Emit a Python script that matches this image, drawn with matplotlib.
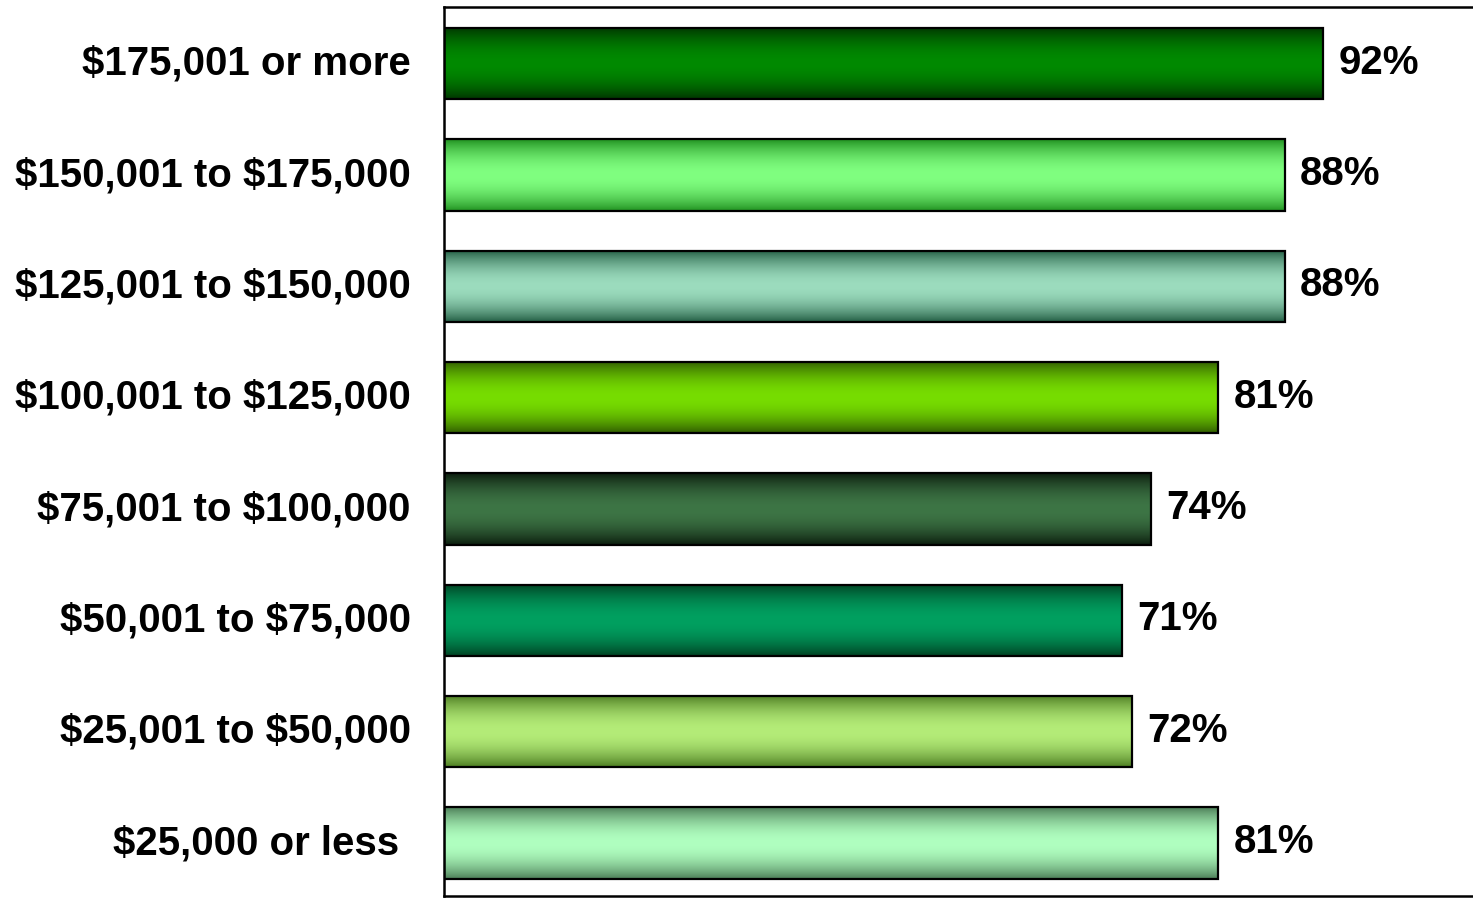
import numpy as np
import matplotlib.pyplot as plt
from matplotlib.colors import to_rgb

plt.rcParams['font.family'] = ['Liberation Sans', 'DejaVu Sans']
plt.rcParams['text.parse_math'] = False

# income brackets, bottom to top
brackets = ['$25,000 or less ', '$25,001 to $50,000', '$50,001 to $75,000',
            '$75,001 to $100,000', '$100,001 to $125,000', '$125,001 to $150,000',
            '$150,001 to $175,000', '$175,001 or more']
percent = [81, 72, 71, 74, 81, 88, 88, 92]

# (middle colour, edge colour) for the tube shading of each bar
mid_colors = ['#b0ffc0', '#b4ec78', '#00a060', '#3d7545',
              '#77dd00', '#9cdcbe', '#80ff80', '#008a00']
edge_colors = ['#4a7a55', '#4a7a20', '#004022', '#0a1a0c',
               '#2f5a00', '#1f5a40', '#1f8f1f', '#003300']

fig = plt.figure(figsize=(14.73, 8.98), dpi=100)
ax = fig.add_axes([0.3014, 0.0017, 0.70, 0.9905])

y = np.arange(len(brackets))
bars = ax.barh(y, percent, height=0.64, color='none', edgecolor='black',
               linewidth=1.6, zorder=3)

t = np.linspace(0, 1, 200)
shade = np.sin(np.pi * t) ** 0.85
for bar, mid, edge in zip(bars, mid_colors, edge_colors):
    m, e = np.array(to_rgb(mid)), np.array(to_rgb(edge))
    grad = e + (m - e) * shade[:, None]
    img = np.repeat(grad[:, None, :], 2, axis=1)
    x0, y0 = bar.get_x(), bar.get_y()
    im = ax.imshow(img, extent=(x0, x0 + bar.get_width(), y0, y0 + bar.get_height()),
                   aspect='auto', origin='lower', interpolation='bilinear', zorder=2)
    im.set_clip_path(bar)

for bar, p in zip(bars, percent):
    ax.text(bar.get_width() + 1.6, bar.get_y() + bar.get_height() / 2 + 0.01, f'{p}%',
            va='center', ha='left', fontsize=29, fontweight='bold', zorder=4)

ax.set_xlim(0, 107.9)
ax.set_ylim(-0.48, 7.51)
ax.set_yticks(y)
ax.set_yticklabels(brackets, fontsize=29, fontweight='bold')
for lbl in ax.get_yticklabels():
    lbl.set_va('center')
ax.tick_params(axis='y', length=0, pad=24)
ax.set_xticks([])
ax.spines['right'].set_visible(False)
for s in ['left', 'top', 'bottom']:
    ax.spines[s].set_linewidth(1.8)

fig.savefig('out.png', dpi=100)
